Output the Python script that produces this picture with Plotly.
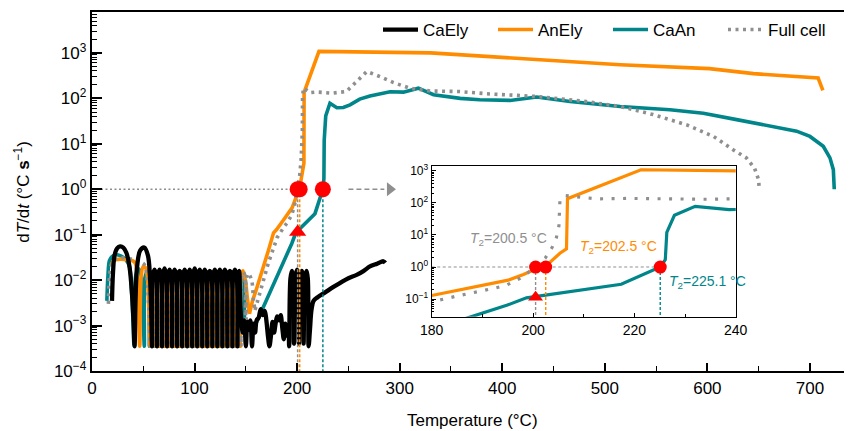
import plotly.graph_objects as go

FONT = "Liberation Sans, Arial, Helvetica, sans-serif"
ORANGE = "#ff8c00"
TEAL = "#00868a"
GRAY = "#8f8f8f"
BLACK = "#000000"
RED = "#ff0000"

# ---------------- data ----------------
# CaEly (black): two arches, dense oscillation band, noisy floor, arches near 200 °C, slow rise
caely_T = [19.5, 20.5, 22, 24.5, 27.5, 30.5, 33.5, 36.5, 39, 40.5, 41.5, 42.5, 44, 47, 51, 54.5, 56.5, 57.7,
           58.5, 59.2, 60.95, 62.7,
           63.4, 64.1, 65.85, 67.6,
           68.3, 69.0, 70.75, 72.5,
           73.2, 73.9, 75.65, 77.4,
           78.1, 78.8, 80.55, 82.3,
           83.0, 83.7, 85.45, 87.2,
           87.9, 88.6, 90.35, 92.1,
           92.8, 93.5, 95.25, 97.0,
           97.7, 98.4, 100.15, 101.9,
           102.6, 103.3, 105.05, 106.8,
           107.5, 108.2, 109.95, 111.7,
           112.4, 113.1, 114.85, 116.6,
           117.3, 118.0, 119.75, 121.5,
           122.2, 122.9, 124.65, 126.4,
           127.1, 127.8, 129.55, 131.3,
           132.0, 132.7, 134.45, 136.2,
           136.9, 137.6, 139.35, 141.1,
           141.8, 142.5, 143.5, 144.3,
           145.5, 147, 148.5, 150, 151.5, 153, 154.5, 156, 157.5, 159, 160.5, 162.5, 164.5, 166.5, 168.5,
           170, 171.5, 173, 174.5, 176, 177.5, 179, 180.5, 182.5, 184, 185.5, 187, 188.5, 190, 191.5,
           192.2, 193.5, 195, 196.2,
           196.9, 198.3, 199.8, 201,
           201.7, 203, 204.5, 205.6,
           206.3, 207.7, 209.2, 210.4,
           211.2, 212.5, 214, 216, 220, 227, 235, 242, 250, 258, 265, 271, 278, 284, 286]
caely_v = [0.0035, 0.015, 0.035, 0.05, 0.055, 0.052, 0.04, 0.02, 0.005, 0.0012, 0.00035, 0.004, 0.02, 0.045,
           0.052, 0.035, 0.012, 0.002,
           0.00035, 0.012, 0.017, 0.012,
           0.00035, 0.012, 0.017, 0.012,
           0.00035, 0.012, 0.018, 0.012,
           0.00035, 0.012, 0.017, 0.012,
           0.00035, 0.012, 0.017, 0.012,
           0.00035, 0.012, 0.016, 0.012,
           0.00035, 0.012, 0.017, 0.012,
           0.00035, 0.012, 0.017, 0.012,
           0.00035, 0.012, 0.018, 0.012,
           0.00035, 0.012, 0.017, 0.012,
           0.00035, 0.012, 0.017, 0.012,
           0.00035, 0.012, 0.016, 0.012,
           0.00035, 0.012, 0.017, 0.012,
           0.00035, 0.012, 0.017, 0.012,
           0.00035, 0.012, 0.017, 0.012,
           0.00035, 0.012, 0.016, 0.012,
           0.00035, 0.012, 0.017, 0.012,
           0.00035, 0.012, 0.016, 0.005,
           0.0013, 0.0007, 0.0013, 0.00035, 0.0012, 0.0008, 0.0013, 0.00035, 0.0011, 0.0007, 0.0013, 0.0015,
           0.0023, 0.0017, 0.0021, 0.0013, 0.0006, 0.00035, 0.0006, 0.0012, 0.0007, 0.0011, 0.0016, 0.0013,
           0.0017, 0.0009, 0.0005, 0.0011, 0.0006, 0.0008,
           0.00035, 0.011, 0.016, 0.011,
           0.0004, 0.011, 0.017, 0.011,
           0.0004, 0.011, 0.016, 0.011,
           0.0004, 0.011, 0.016, 0.011,
           0.00035, 0.0008, 0.0022, 0.0035, 0.0042, 0.0053, 0.007, 0.0087, 0.011, 0.013, 0.016, 0.02,
           0.023, 0.026, 0.024]

# AnEly (orange)
anely_osc_T = [19, 20.5, 23, 28, 34, 39, 42, 44, 45.5, 46.5, 48, 50, 52, 54, 55.5,
               56.5, 57.2, 58.95, 60.7,
               61.4, 62.1, 63.85, 65.6,
               66.3, 67.0, 68.75, 70.5,
               71.2, 71.9, 73.65, 75.4,
               76.1, 76.8, 78.55, 80.3,
               81.0, 81.7, 83.45, 85.2,
               85.9, 86.6, 88.35, 90.1,
               90.8, 91.5, 93.25, 95.0,
               95.7, 96.4, 98.15, 99.9,
               100.6, 101.3, 103.05, 104.8,
               105.5, 106.2, 107.95, 109.7,
               110.4, 111.1, 112.85, 114.6,
               115.3, 116.0, 117.75, 119.5,
               120.2, 120.9, 122.65, 124.4,
               125.1, 125.8, 127.55, 129.3,
               130.0, 130.7, 132.45, 134.2,
               134.9, 135.6, 137.35, 139.1,
               139.8, 140.5, 142.25, 144.0,
               144.7, 145.4, 147.2, 149.5, 151.5, 153.5]
anely_osc_v = [0.02, 0.026, 0.028, 0.029, 0.028, 0.027, 0.024, 0.012, 0.0015, 0.00035, 0.012, 0.02, 0.019,
               0.012, 0.002,
               0.00035, 0.011, 0.015, 0.011,
               0.00035, 0.011, 0.015, 0.011,
               0.00035, 0.011, 0.015, 0.011,
               0.00035, 0.011, 0.015, 0.011,
               0.00035, 0.011, 0.015, 0.011,
               0.00035, 0.011, 0.015, 0.011,
               0.00035, 0.011, 0.015, 0.011,
               0.00035, 0.011, 0.015, 0.011,
               0.00035, 0.011, 0.015, 0.011,
               0.00035, 0.011, 0.015, 0.011,
               0.00035, 0.011, 0.015, 0.011,
               0.00035, 0.011, 0.015, 0.011,
               0.00035, 0.011, 0.015, 0.011,
               0.00035, 0.011, 0.015, 0.011,
               0.00035, 0.011, 0.015, 0.011,
               0.00035, 0.011, 0.015, 0.011,
               0.00035, 0.011, 0.015, 0.011,
               0.00035, 0.011, 0.015, 0.011,
               0.00035, 0.012, 0.016, 0.01, 0.004, 0.0018]
anely_T = [153.5, 156.5, 160, 167, 172, 177, 180, 186, 195.1, 198.1, 200, 202.3, 204, 205.3, 206.6, 206.8,
           221.3, 330, 417, 515, 602, 645, 708, 712.6]
anely_v = [0.0018, 0.0035, 0.006, 0.018, 0.045, 0.11, 0.13, 0.2, 0.39, 0.59, 0.8, 1.0, 1.7, 2.7, 3.7, 135,
           1080, 1000, 740, 550, 450, 350, 280, 150]

# CaAn (teal)
caan_osc_T = [14.5, 15.5, 17, 19.5, 23, 28, 33, 36.5, 38.5, 40, 41, 42.5, 45, 47.5, 49.5,
              51.0, 51.7, 53.45, 55.2,
              55.9, 56.6, 58.35, 60.1,
              60.8, 61.5, 63.25, 65.0,
              65.7, 66.4, 68.15, 69.9,
              70.6, 71.3, 73.05, 74.8,
              75.5, 76.2, 77.95, 79.7,
              80.4, 81.1, 82.85, 84.6,
              85.3, 86.0, 87.75, 89.5,
              90.2, 90.9, 92.65, 94.4,
              95.1, 95.8, 97.55, 99.3,
              100.0, 100.7, 102.45, 104.2,
              104.9, 105.6, 107.35, 109.1,
              109.8, 110.5, 112.25, 114.0,
              114.7, 115.4, 117.15, 118.9,
              119.6, 120.3, 122.05, 123.8,
              124.5, 125.2, 126.95, 128.7,
              129.4, 130.1, 131.85, 133.6,
              134.3, 135.0, 136.75, 138.5,
              139.2, 139.9, 141.65, 143.4,
              144.1, 144.8, 146.55, 148.3,
              149.0, 149.7, 151.5, 153.5, 155.5, 157.4]
caan_osc_v = [0.0035, 0.012, 0.027, 0.033, 0.036, 0.034, 0.028, 0.02, 0.006, 0.0012, 0.00035, 0.012, 0.018,
              0.014, 0.003,
              0.00035, 0.011, 0.015, 0.011,
              0.00035, 0.011, 0.015, 0.011,
              0.00035, 0.011, 0.015, 0.011,
              0.00035, 0.011, 0.015, 0.011,
              0.00035, 0.011, 0.015, 0.011,
              0.00035, 0.011, 0.015, 0.011,
              0.00035, 0.011, 0.015, 0.011,
              0.00035, 0.011, 0.015, 0.011,
              0.00035, 0.011, 0.015, 0.011,
              0.00035, 0.011, 0.015, 0.011,
              0.00035, 0.011, 0.015, 0.011,
              0.00035, 0.011, 0.015, 0.011,
              0.00035, 0.011, 0.015, 0.011,
              0.00035, 0.011, 0.015, 0.011,
              0.00035, 0.011, 0.015, 0.011,
              0.00035, 0.011, 0.015, 0.011,
              0.00035, 0.011, 0.015, 0.011,
              0.00035, 0.011, 0.015, 0.011,
              0.00035, 0.011, 0.015, 0.011,
              0.00035, 0.011, 0.013, 0.004, 0.0006, 0.00083]
caan_T = [157.4, 167, 177, 187.2, 194.8, 198.7, 217.4, 225.1, 226.1, 226.4, 227.9, 232, 238.7, 245, 251.6,
          261, 271, 290.6, 303.6, 318.2, 333, 359, 378, 407.6, 433.6, 466, 515, 563.5, 596, 628.5, 661, 687,
          700, 713, 719.5, 722.8, 723.7]
caan_v = [0.00083, 0.0025, 0.008, 0.027, 0.064, 0.11, 0.29, 1.0, 1.7, 12, 41, 78, 62, 63, 72,
          96, 113, 140, 137, 167, 120, 100, 93, 90, 107, 85, 66, 56, 47, 34, 24, 19,
          14.5, 8.8, 4.9, 2.7, 1.0]

# Full cell (gray dotted)
full_osc_T = [16, 17.5, 20, 25, 32, 38, 43, 47, 51, 53.5, 55.5,
              57.0, 57.7, 59.45, 61.2,
              61.9, 62.6, 64.35, 66.1,
              66.8, 67.5, 69.25, 71.0,
              71.7, 72.4, 74.15, 75.9,
              76.6, 77.3, 79.05, 80.8,
              81.5, 82.2, 83.95, 85.7,
              86.4, 87.1, 88.85, 90.6,
              91.3, 92.0, 93.75, 95.5,
              96.2, 96.9, 98.65, 100.4,
              101.1, 101.8, 103.55, 105.3,
              106.0, 106.7, 108.45, 110.2,
              110.9, 111.6, 113.35, 115.1,
              115.8, 116.5, 118.25, 120.0,
              120.7, 121.4, 123.15, 124.9,
              125.6, 126.3, 128.05, 129.8,
              130.5, 131.2, 132.95, 134.7,
              135.4, 136.1, 137.85, 139.6,
              140.3, 141.0, 142.75, 144.5,
              145.2, 145.9, 147.65, 149.4,
              150.1, 150.8, 152.5, 155.8, 157.5, 159]
full_osc_v = [0.003, 0.015, 0.025, 0.03, 0.031, 0.029, 0.027, 0.025, 0.022, 0.012, 0.002,
              0.00035, 0.011, 0.015, 0.011,
              0.00035, 0.011, 0.015, 0.011,
              0.00035, 0.011, 0.015, 0.011,
              0.00035, 0.011, 0.015, 0.011,
              0.00035, 0.011, 0.015, 0.011,
              0.00035, 0.011, 0.015, 0.011,
              0.00035, 0.011, 0.015, 0.011,
              0.00035, 0.011, 0.015, 0.011,
              0.00035, 0.011, 0.015, 0.011,
              0.00035, 0.011, 0.015, 0.011,
              0.00035, 0.011, 0.015, 0.011,
              0.00035, 0.011, 0.015, 0.011,
              0.00035, 0.011, 0.015, 0.011,
              0.00035, 0.011, 0.015, 0.011,
              0.00035, 0.011, 0.015, 0.011,
              0.00035, 0.011, 0.015, 0.011,
              0.00035, 0.011, 0.015, 0.011,
              0.00035, 0.011, 0.015, 0.011,
              0.00035, 0.011, 0.015, 0.011,
              0.00035, 0.012, 0.014, 0.0095, 0.0035, 0.0022]
full_T = [159, 165, 172, 180.6, 183.2, 185.5, 187.8, 190.1, 192.4, 194.7, 197.5, 200.3, 202.4, 203.8, 204.6,
          205.1, 205.2, 205.3, 206.3, 209.2, 212.5, 219, 234, 248, 258, 268, 281, 294, 310, 330, 359, 385,
          434, 482, 515, 547, 580, 606, 625, 638, 646, 650, 650.5]
full_v = [0.0022, 0.0065, 0.024, 0.087, 0.11, 0.13, 0.155, 0.18, 0.22, 0.27, 0.45, 0.95, 1.9, 4.2, 8.2,
          19, 50, 114, 170, 150, 134, 138, 130, 141, 235, 390, 300, 222, 167, 145, 141, 126,
          110, 85, 66, 44, 26, 14.5, 7.4, 4.9, 2.9, 1.6, 1.0]

# onset temperatures T2 (dT/dt = 1 °C/s) and the triangle mark
t2_T = [200.5, 202.5, 225.1]
t2_v = [1, 1, 1]
t2_colors = [GRAY, ORANGE, TEAL]
t2_labels = ["<i>T</i><sub>2</sub>=200.5 °C", "<i>T</i><sub>2</sub>=202.5 °C", "<i>T</i><sub>2</sub>=225.1 °C"]
tri_T = [200.5]
tri_v = [0.115]

# reference lines
hline_T = [0, 199]
hline_v = [1, 1]
arrow_T = [250, 285]
arrow_v = [1, 1]
arrow_head_T = [290.5]
floor_v = 1e-4
inset_floor_v = 0.02

# axis ticks
x_ticks = [0, 100, 200, 300, 400, 500, 600, 700]
y_ticks = [1e-4, 1e-3, 1e-2, 1e-1, 1, 10, 100, 1000]
y_ticktext = ["10<sup>−4</sup>", "10<sup>−3</sup>", "10<sup>−2</sup>", "10<sup>−1</sup>",
              "10<sup>0</sup>", "10<sup>1</sup>", "10<sup>2</sup>", "10<sup>3</sup>"]
inset_x_ticks = [180, 200, 220, 240]
inset_y_ticks = [1e-1, 1, 10, 100, 1000]
inset_y_ticktext = ["10<sup>−1</sup>", "10<sup>0</sup>", "10<sup>1</sup>", "10<sup>2</sup>", "10<sup>3</sup>"]
minor_y = [m * 10.0 ** e for e in range(-4, 4) for m in range(2, 10)]

# ---------------- figure ----------------
fig = go.Figure()
LW = 3.6
DOT = "3px,4.5px"


def add(x, y, color, name, show, rank, xa="x", ya="y", lw=LW, dash="solid", shape="linear"):
    fig.add_trace(go.Scatter(
        x=x, y=y, mode="lines", name=name, legendgroup=name, showlegend=show, legendrank=rank,
        line=dict(color=color, width=lw, dash=dash, shape=shape, smoothing=1.0),
        xaxis=xa, yaxis=ya, hoverinfo="skip"))


# main panel (drawing order: teal, orange, gray, black on top)
add(caan_osc_T, caan_osc_v, TEAL, "CaAn", True, 3, shape="spline")
add(caan_T, caan_v, TEAL, "CaAn", False, 3)
add(anely_osc_T, anely_osc_v, ORANGE, "AnEly", True, 2, shape="spline")
add(anely_T, anely_v, ORANGE, "AnEly", False, 2)
add(full_osc_T, full_osc_v, GRAY, "Full cell", True, 4, dash=DOT, shape="spline")
add(full_T, full_v, GRAY, "Full cell", False, 4, dash=DOT)
add(caely_T, caely_v, BLACK, "CaEly", True, 1, lw=4.3, shape="spline")

# main reference lines
fig.add_trace(go.Scatter(x=hline_T, y=hline_v, mode="lines", showlegend=False, hoverinfo="skip",
                         line=dict(color=GRAY, width=1.3, dash="2px,2.5px")))
fig.add_trace(go.Scatter(x=arrow_T, y=arrow_v, mode="lines", showlegend=False, hoverinfo="skip",
                         line=dict(color=GRAY, width=1.6, dash="5px,3px")))
fig.add_trace(go.Scatter(x=arrow_head_T, y=[1], mode="markers", showlegend=False, hoverinfo="skip",
                         marker=dict(symbol="triangle-right", size=12, color=GRAY)))
for t, c in zip(t2_T, t2_colors):
    fig.add_trace(go.Scatter(x=[t, t], y=[1, floor_v], mode="lines", showlegend=False, hoverinfo="skip",
                             line=dict(color=c, width=1.5, dash="3px,2px")))
fig.add_trace(go.Scatter(x=t2_T, y=t2_v, mode="markers", showlegend=False, hoverinfo="skip",
                         marker=dict(symbol="circle", size=16, color=RED)))
fig.add_trace(go.Scatter(x=tri_T, y=tri_v, mode="markers", showlegend=False, hoverinfo="skip",
                         marker=dict(symbol="triangle-up", size=15, color=RED)))

# inset panel
ILW = 3.2
add(caan_T, caan_v, TEAL, "CaAn", False, 3, "x2", "y2", ILW)
add(anely_T, anely_v, ORANGE, "AnEly", False, 2, "x2", "y2", ILW)
add(full_T, full_v, GRAY, "Full cell", False, 4, "x2", "y2", ILW, dash="3px,8.5px")
fig.add_trace(go.Scatter(x=[180, 225.1], y=[1, 1], mode="lines", showlegend=False, hoverinfo="skip",
                         xaxis="x2", yaxis="y2", line=dict(color=GRAY, width=1.1, dash="3px,2.5px")))
for t, c in zip(t2_T, t2_colors):
    fig.add_trace(go.Scatter(x=[t, t], y=[1, inset_floor_v], mode="lines", showlegend=False, hoverinfo="skip",
                             xaxis="x2", yaxis="y2", line=dict(color=c, width=1.4, dash="3px,2px")))
fig.add_trace(go.Scatter(x=t2_T, y=t2_v, mode="markers", showlegend=False, hoverinfo="skip",
                         xaxis="x2", yaxis="y2", marker=dict(symbol="circle", size=13, color=RED)))
fig.add_trace(go.Scatter(x=tri_T, y=tri_v, mode="markers", showlegend=False, hoverinfo="skip",
                         xaxis="x2", yaxis="y2", marker=dict(symbol="triangle-up", size=13, color=RED)))

# inset labels
label_pos = [(187.1, 0.86), (208.8, 0.64), (226.5, -0.48)]
for (lx, ly), txt, c in zip(label_pos, t2_labels, t2_colors):
    fig.add_annotation(x=lx, y=ly, xref="x2", yref="y2", text=txt, showarrow=False,
                       xanchor="left", yanchor="middle", font=dict(family=FONT, size=14, color=c))

# axis titles
fig.add_annotation(x=-0.093, y=0.5, xref="paper", yref="paper", textangle=-90, showarrow=False,
                   xanchor="center", yanchor="middle",
                   text="d<i>T</i>/d<i>t</i> (°C <b>s</b><sup>−1</sup>)",
                   font=dict(family=FONT, size=17, color="black"))
fig.add_annotation(x=0.5, y=-0.137, xref="paper", yref="paper", showarrow=False,
                   xanchor="center", yanchor="middle", text="Temperature (°C)",
                   font=dict(family=FONT, size=17, color="black"))

axis_common = dict(showgrid=False, zeroline=False, color="black", linecolor="black", automargin=False)

# the page body adds an 8 px offset, so the figure is 8 px smaller than the window on each axis
fig.update_layout(
    width=844, height=423,
    margin=dict(l=84, r=0, t=4, b=60, autoexpand=False),
    paper_bgcolor="white", plot_bgcolor="white",
    font=dict(family=FONT, size=17, color="black"),
    showlegend=True,
    legend=dict(orientation="h", x=(378 - 92) / 760, xanchor="left", y=1.0, yanchor="top",
                font=dict(family=FONT, size=17), itemwidth=35, entrywidth=65, entrywidthmode="pixels",
                bgcolor="rgba(0,0,0,0)", tracegroupgap=0),
    xaxis=dict(range=[0, 741], domain=[0, 1], anchor="y", tickmode="array", tickvals=x_ticks,
               ticks="inside", ticklen=8, tickwidth=1.6, showline=True, linewidth=2.4, mirror=True,
               minor=dict(ticks="inside", ticklen=5, tickwidth=1.4, dtick=50, tick0=0),
               tickfont=dict(size=17), **axis_common),
    yaxis=dict(type="log", range=[-4, 3.9], domain=[0, 1], anchor="x", tickmode="array",
               tickvals=y_ticks, ticktext=y_ticktext, ticks="inside", ticklen=10, tickwidth=1.6,
               showline=True, linewidth=2.4,
               minor=dict(ticks="inside", ticklen=5, tickwidth=1.2, tickmode="array", tickvals=minor_y),
               tickfont=dict(size=17), **axis_common),
    xaxis2=dict(range=[180, 240], domain=[0.447, 0.847], anchor="y2", tickmode="array",
                tickvals=inset_x_ticks, ticks="inside", ticklen=4, tickwidth=1, showline=True,
                linewidth=1.2, mirror=True,
                minor=dict(ticks="inside", ticklen=3, tickwidth=1, dtick=10, tick0=180),
                tickfont=dict(size=14), **axis_common),
    yaxis2=dict(type="log", range=[-1.55, 3.15], domain=[0.151, 0.571], anchor="x2", tickmode="array",
                tickvals=inset_y_ticks, ticktext=inset_y_ticktext, ticks="inside", ticklen=4,
                tickwidth=1, showline=True, linewidth=1.2, mirror=True,
                minor=dict(ticks="inside", ticklen=2, tickwidth=0.8, tickmode="array", tickvals=minor_y),
                tickfont=dict(size=12), **axis_common),
)

fig.write_html("out.html")
